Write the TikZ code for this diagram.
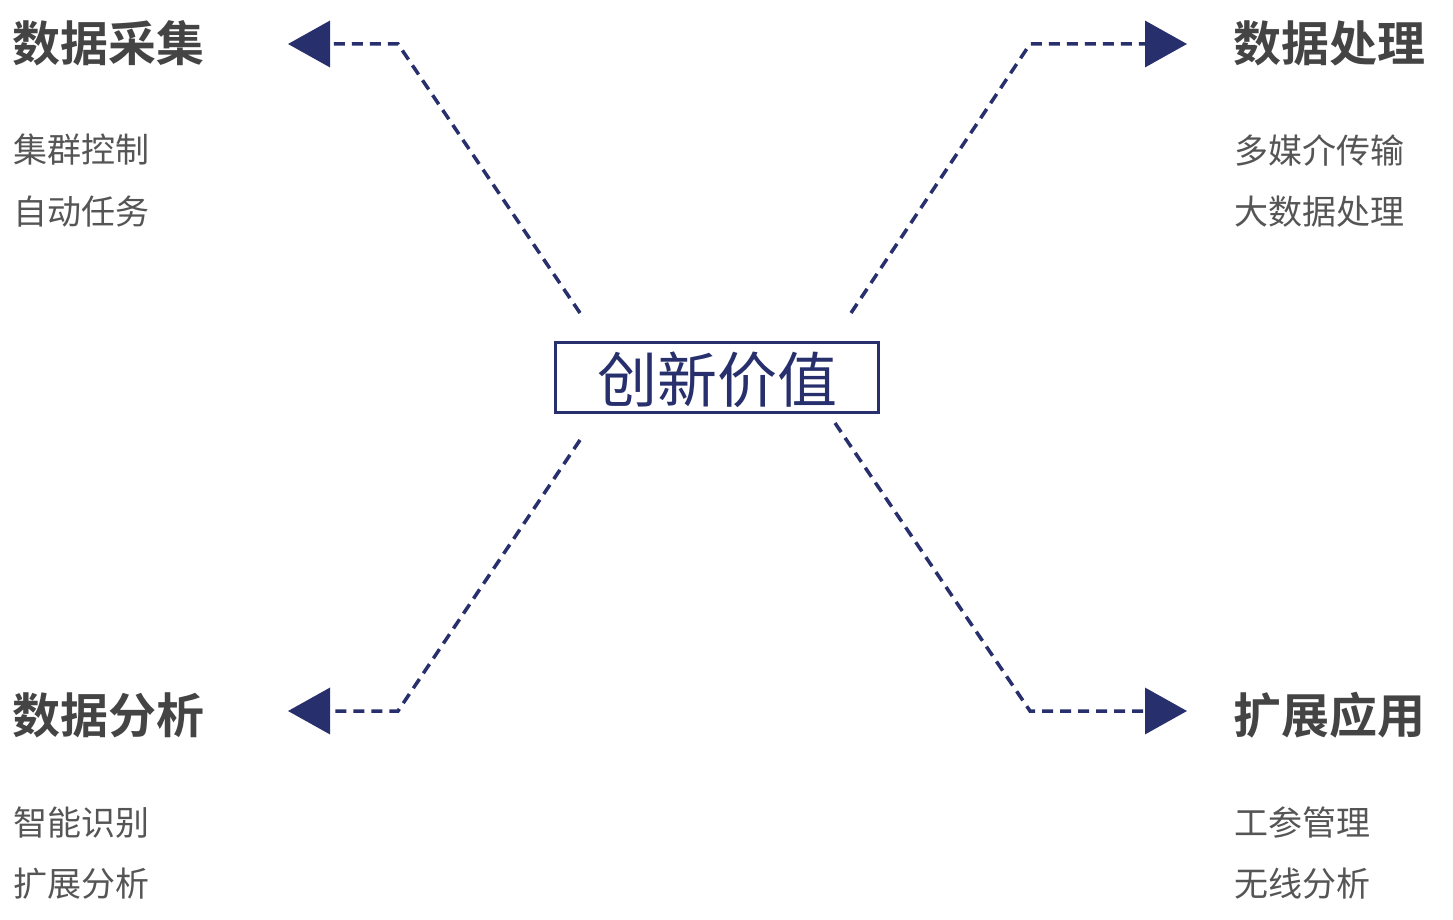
\documentclass[tikz,border=0pt]{standalone}
\usepackage{fontspec}
\usepackage{tikz}
\usetikzlibrary{arrows.meta,positioning}
\newfontfamily\cjk{Noto Sans CJK SC}
\newfontfamily\cjkbold{Noto Sans CJK SC Bold}
\definecolor{navy}{HTML}{272F6C}
\definecolor{headgray}{HTML}{444444}
\definecolor{itemgray}{HTML}{555555}

\begin{document}
\begin{tikzpicture}[x=1pt,y=-1pt,
		head/.style={inner sep=0pt,text=headgray,font=\cjkbold\fontsize{48}{48}\selectfont},
		item/.style={inner sep=0pt,text=itemgray,font=\cjk\fontsize{34}{34}\selectfont},
		link/.style={navy,line width=3.5pt,dash pattern=on 11pt off 7pt,
			-{Triangle[length=42pt,width=46pt]}}]
		
		\useasboundingbox (0,0) rectangle (1453,920);
		
		% center
		\node[draw=navy,line width=3pt,minimum width=323pt,minimum height=70pt,inner sep=0pt,
			text depth=0pt,text=navy,font=\cjk\fontsize{60}{60}\selectfont] (value) at (717,377) {创新价值};
		
		% four corners
		\node[head,anchor=west] (collect) at (12,43) {数据采集};
		\node[item,anchor=west] (cluster) at (13,150) {集群控制};
		\node[item,anchor=west] (auto) at (13,212) {自动任务};
		
		\node[head,anchor=west] (process) at (1233,43) {数据处理};
		\node[item,anchor=west] (media) at (1234,150) {多媒介传输};
		\node[item,anchor=west] (bigdata) at (1234,212) {大数据处理};
		
		\node[head,anchor=west] (analyse) at (12,715) {数据分析};
		\node[item,anchor=west] (smart) at (13,823) {智能识别};
		\node[item,anchor=west] (extana) at (13,884) {扩展分析};
		
		\node[head,anchor=west] (extend) at (1233,715) {扩展应用};
		\node[item,anchor=west] (param) at (1234,823) {工参管理};
		\node[item,anchor=west] (wireless) at (1234,884) {无线分析};
		
		% dashed links
		\coordinate (tl-start) at (580,313);
		\coordinate (tl-bend) at (398,44);
		\coordinate (tl-tip) at (288,44);
		\coordinate (tr-start) at (851,313);
		\coordinate (tr-bend) at (1030,44);
		\coordinate (tr-tip) at (1187,44);
		\coordinate (bl-start) at (580,440);
		\coordinate (bl-bend) at (398,711);
		\coordinate (bl-tip) at (288,711);
		\coordinate (br-start) at (835,423);
		\coordinate (br-bend) at (1030,711);
		\coordinate (br-tip) at (1187,711);
		
		\draw[link] (tl-start) -- (tl-bend) -- (tl-tip);
		\draw[link] (tr-start) -- (tr-bend) -- (tr-tip);
		\draw[link] (bl-start) -- (bl-bend) -- (bl-tip);
		\draw[link] (br-start) -- (br-bend) -- (br-tip);
		\end{tikzpicture}
\end{document}
